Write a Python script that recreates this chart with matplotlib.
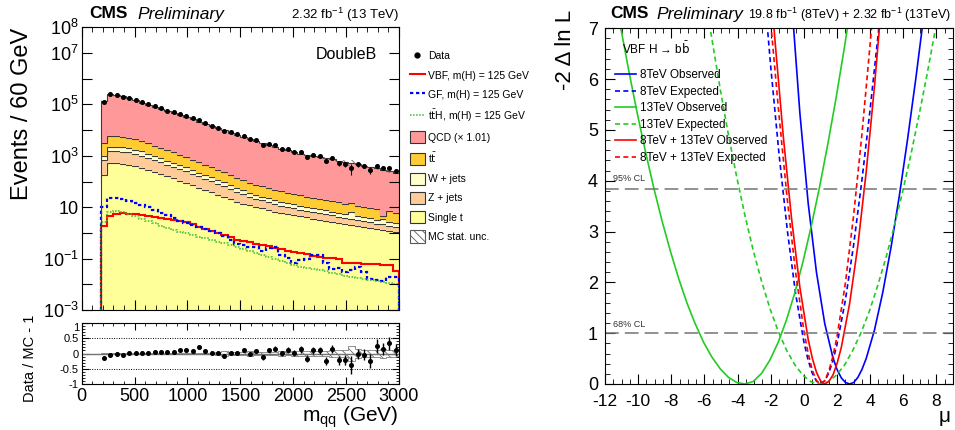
import numpy as np
import matplotlib.pyplot as plt
from matplotlib.lines import Line2D
from matplotlib.patches import Patch
from matplotlib.ticker import FixedLocator, FixedFormatter, MultipleLocator, NullLocator

plt.rcParams['font.family'] = ['Liberation Sans', 'DejaVu Sans']
plt.rcParams['mathtext.default'] = 'regular'
plt.rcParams['axes.unicode_minus'] = False
plt.rcParams['hatch.linewidth'] = 0.6

# ---- left panel: m_qq distribution, 60 GeV bins from 180 to 3000 GeV ----
edges = np.arange(180, 3001, 60)

single_t = [178, 513, 513, 490, 457, 407, 347, 288, 240, 195, 158, 132, 107, 87.1, 70.8, 57.5,
            46.8, 38.0, 30.9, 25.1, 20.4, 16.6, 13.8, 11.7, 10.2, 8.91, 7.76, 6.76, 6.03, 5.37,
            4.79, 4.37, 3.98, 3.63, 3.31, 3.02, 2.75, 2.51, 2.29, 2.09, 1.91, 1.74, 1.58, 1.45,
            1.35, 1.23, 1.12]
z_jets = [514, 1000, 1000, 956, 891, 794, 677, 562, 456, 371, 300, 251, 203, 165, 124, 99.5,
          79.6, 63.8, 51.0, 40.9, 30.6, 23.2, 17.9, 14.0, 11.2, 9.36, 7.76, 6.42, 5.55, 4.83,
          4.22, 3.71, 3.26, 2.90, 2.58, 2.30, 2.04, 1.81, 1.60, 1.42, 1.26, 1.11, 0.98, 0.87,
          0.78, 0.69, 0.62]
w_jets = [284, 726, 726, 680, 620, 540, 451, 366, 292, 238, 192, 161, 130, 106, 81.9, 65.9,
          52.9, 42.8, 34.4, 27.7, 21.4, 16.7, 13.3, 10.8, 8.99, 7.69, 6.51, 5.54, 4.87, 4.28,
          3.78, 3.39, 3.04, 2.74, 2.47, 2.23, 2.01, 1.81, 1.63, 3.0, 1.33, 1.20, 1.08, 0.97,
          1.5, 0.81, 0.73]
ttbar = [2108, 3515, 3500, 3402, 3149, 2699, 2213, 1824, 1482, 1205, 975, 816, 660, 537, 415,
         334, 268, 217, 174, 141, 109, 84.8, 67.5, 54.8, 45.6, 39.0, 33.0, 28.1, 24.7, 21.7,
         19.2, 17.2, 15.4, 13.9, 12.5, 11.3, 10.2, 9.2, 8.3, 7.8, 6.75, 6.1, 5.5, 5.0, 0.8,
         4.1, 3.6]
qcd = [1.380e5, 2.570e5, 2.291e5, 1.995e5, 1.698e5, 1.413e5, 1.148e5, 9.55e4, 7.76e4, 6.46e4,
       5.37e4, 4.57e4, 3.80e4, 3.16e4, 2.57e4, 2.09e4, 1.70e4, 1.41e4, 1.17e4, 9550, 7760,
       6460, 5250, 4370, 3630, 3020, 2570, 2190, 1860, 1580, 1380, 1200, 1070, 955, 871, 794,
       708, 631, 575, 513, 457, 407, 363, 324, 282, 245, 214]
data = [1.201e5, 2.525e5, 2.297e5, 1.960e5, 1.790e5, 1.474e5, 1.210e5, 9.97e4, 8.34e4, 6.94e4,
        5.78e4, 5.01e4, 4.36e4, 3.60e4, 2.89e4, 2.57e4, 1.86e4, 1.48e4, 1.22e4, 9090, 8100,
        6810, 5960, 4380, 3980, 2690, 2920, 2580, 1910, 1800, 1440, 1390, 913, 1075, 980, 618,
        833, 504, 459, 331, 459, 400, 283, 410, 331, 334, 245]
ratio_err = [0.02, 0.02, 0.02, 0.02, 0.02, 0.02, 0.02, 0.02, 0.02, 0.02, 0.025, 0.025, 0.025,
             0.025, 0.025, 0.025, 0.03, 0.03, 0.035, 0.04, 0.04, 0.045, 0.05, 0.055, 0.06, 0.07,
             0.07, 0.08, 0.08, 0.09, 0.09, 0.10, 0.11, 0.11, 0.12, 0.14, 0.14, 0.15, 0.16, 0.28,
             0.17, 0.18, 0.22, 0.23, 0.2, 0.22, 0.18]
mc_unc = [0.01, 0.01, 0.01, 0.01, 0.01, 0.01, 0.015, 0.015, 0.015, 0.015, 0.02, 0.02, 0.02,
          0.02, 0.025, 0.025, 0.03, 0.03, 0.04, 0.09, 0.04, 0.04, 0.05, 0.08, 0.05, 0.06, 0.06,
          0.06, 0.08, 0.06, 0.07, 0.07, 0.08, 0.08, 0.08, 0.09, 0.10, 0.10, 0.12, 0.25, 0.15,
          0.12, 0.12, 0.12, 0.14, 0.12, 0.10]
vbf = [1.86, 4.57, 5.37, 5.75, 5.62, 5.25, 4.90, 4.47, 4.07, 3.72, 3.39, 3.09, 2.82, 2.57, 2.14,
       1.74, 1.45, 1.20, 0.977, 0.813, 0.676, 0.550, 0.479, 0.427, 0.380, 0.339, 0.302, 0.269,
       0.240, 0.200, 0.174, 0.158, 0.145, 0.132, 0.120, 0.110, 0.105, 0.100, 0.068, 0.066,
       0.065, 0.063, 0.062, 0.060, 0.056, 0.054, 0.034]
gf = [10.5, 22.4, 21.9, 20.4, 17.8, 15.1, 12.3, 10.0, 7.94, 6.03, 4.79, 3.80, 3.02, 2.40, 2.00,
      1.66, 1.38, 1.15, 0.955, 0.759, 0.550, 0.380, 0.339, 0.288, 0.288, 0.204, 0.251, 0.288,
      0.138, 0.102, 0.069, 0.089, 0.100, 0.138, 0.138, 0.069, 0.038, 0.042, 0.031, 0.035,
      0.049, 0.031, 0.0155, 0.0148, 0.0135, 0.0186, 0.0200]
tth = [2.75, 6.31, 6.92, 6.61, 5.62, 4.57, 3.63, 2.95, 2.34, 1.91, 1.58, 1.32, 1.12, 0.955,
       0.832, 0.708, 0.617, 0.525, 0.457, 0.389, 0.339, 0.288, 0.240, 0.200, 0.166, 0.138,
       0.115, 0.0955, 0.0794, 0.0661, 0.0550, 0.0490, 0.0437, 0.0398, 0.0363, 0.0316, 0.0275,
       0.0245, 0.0219, 0.0200, 0.0182, 0.0166, 0.0151, 0.0138, 0.0126, 0.0115, 0.0105]

stack_names = ['Single t', 'Z + jets', 'W + jets', r't$\bar{\rm t}$', 'QCD (× 1.01)']
stack_colors = ['#ffff99', '#ffcc99', '#ffffcc', '#ffcc33', '#ff9999']

# ---- right panel: likelihood scans ----
mu_8obs = [-0.74, -0.24, 0.26, 0.76, 1.26, 1.76, 2.01, 2.26, 2.51, 2.76, 3.01, 3.26, 3.51, 3.76,
           4.26, 4.76, 5.26, 5.76, 6.26, 6.76, 7.26]
nll_8obs = [7.54, 5.33, 3.56, 2.20, 1.19, 0.51, 0.28, 0.12, 0.03, 0.0, 0.03, 0.13, 0.29, 0.50,
            1.06, 1.80, 2.69, 3.70, 4.82, 6.02, 7.31]
mu_8exp = [-2.5, -2.0, -1.5, -1.0, -0.5, 0.0, 0.25, 0.5, 0.75, 1.0, 1.25, 1.5, 1.75, 2.0, 2.5,
           3.0, 3.5, 4.0, 4.5, 5.0]
nll_8exp = [8.16, 6.25, 4.53, 3.03, 1.78, 0.83, 0.48, 0.22, 0.06, 0.0, 0.06, 0.21, 0.46, 0.78,
            1.64, 2.73, 4.00, 5.41, 6.93, 8.53]
mu_13obs = [-11.55, -11.05, -10.55, -10.05, -9.55, -9.05, -8.55, -8.05, -7.55, -7.05, -6.55,
            -6.05, -5.55, -5.05, -4.55, -4.05, -3.55, -3.05, -2.55, -2.05, -1.55, -1.05, -0.55,
            -0.05, 0.45, 0.95, 1.45, 1.95, 2.45, 2.95]
nll_13obs = [7.94, 7.01, 6.14, 5.32, 4.56, 3.85, 3.20, 2.61, 2.07, 1.59, 1.18, 0.82, 0.53, 0.30,
             0.13, 0.03, 0.0, 0.05, 0.21, 0.47, 0.82, 1.26, 1.79, 2.41, 3.11, 3.88, 4.73, 5.64,
             6.63, 7.68]
mu_13exp = [-6.05, -5.55, -5.05, -4.55, -4.05, -3.55, -3.05, -2.55, -2.05, -1.55, -1.05, -0.55,
            -0.05, 0.45, 0.95, 1.45, 1.95, 2.45, 2.95, 3.45, 3.95, 4.45, 4.95, 5.45, 5.95, 6.45,
            6.95, 7.45, 7.95, 8.45]
nll_13exp = [7.84, 6.79, 5.81, 4.90, 4.07, 3.31, 2.62, 2.02, 1.49, 1.04, 0.67, 0.38, 0.17, 0.04,
             0.0, 0.04, 0.17, 0.37, 0.66, 1.01, 1.43, 1.93, 2.48, 3.10, 3.77, 4.50, 5.29, 6.12,
             7.00, 7.94]
mu_combobs = [-2.24, -1.74, -1.24, -0.74, -0.24, 0.26, 0.51, 0.76, 1.01, 1.26, 1.51, 1.76, 2.01,
              2.26, 2.76, 3.26, 3.76, 4.26, 4.76]
nll_combobs = [8.84, 6.75, 4.87, 3.25, 1.90, 0.88, 0.51, 0.23, 0.06, 0.0, 0.05, 0.18, 0.41,
               0.72, 1.58, 2.73, 4.17, 5.85, 7.78]
mu_combexp = [-2.5, -2.0, -1.5, -1.0, -0.5, 0.0, 0.25, 0.5, 0.75, 1.0, 1.25, 1.5, 1.75, 2.0,
              2.5, 3.0, 3.5, 4.0, 4.5]
nll_combexp = [9.07, 7.11, 5.29, 3.63, 2.20, 1.05, 0.62, 0.28, 0.07, 0.0, 0.06, 0.25, 0.54,
               0.93, 1.97, 3.31, 4.90, 6.69, 8.65]

fig = plt.figure(figsize=(9.55, 4.3), dpi=100)
W, H = 955.0, 430.0

def fax(x0, y0, x1, y1):
    # pixel box -> figure axes
    return fig.add_axes([x0 / W, 1 - y1 / H, (x1 - x0) / W, (y1 - y0) / H])

ax = fax(81.7, 27.3, 399, 310)
axr = fax(81.7, 322.7, 399, 384.3)
ax2 = fax(605, 28.3, 953, 384)

# stacked backgrounds
cum = np.zeros(len(qcd))
for vals, col in zip([single_t, z_jets, w_jets, ttbar, qcd], stack_colors):
    top = cum + np.array(vals)
    base = np.maximum(cum, 1e-3)
    ax.stairs(top, edges, baseline=base, fill=True, color=col, lw=0)
    ax.stairs(top, edges, baseline=None, color='#3a3a3a', lw=0.8)
    cum = top
mc = cum
mc_unc = np.array(mc_unc)
ax.plot([180, 180], [1e-3, mc[0]], color='#3a3a3a', lw=0.8)
ax.stairs(mc * (1 + mc_unc), edges, baseline=mc * (1 - mc_unc), fill=True,
          facecolor='none', edgecolor='0.4', hatch='\\\\\\\\', lw=0)

# signals
ax.stairs(vbf, edges, baseline=1e-3, color='red', lw=1.5)
ax.stairs(gf, edges, baseline=1e-3, color='blue', lw=1.6, ls=(0, (1.5, 1.2)))
ax.stairs(tth, edges, baseline=1e-3, color='#33bb33', lw=1.1, ls=(0, (1, 1)))

centers = 0.5 * (edges[:-1] + edges[1:])
data = np.array(data)
ratio_err = np.array(ratio_err)
ax.errorbar(centers, data, yerr=ratio_err * mc, fmt='o', ms=2.6, color='k', lw=0.8)

ax.set_yscale('log')
ax.set_xlim(0, 3000)
ax.set_ylim(1e-3, 1e8)
decades = [10.0 ** k for k in range(-3, 9)]
labels = ['$10^{-3}$', '', '$10^{-1}$', '', '10', '', '$10^{3}$', '', '$10^{5}$', '',
          '$10^{7}$', '$10^{8}$']
ax.yaxis.set_major_locator(FixedLocator(decades))
ax.yaxis.set_major_formatter(FixedFormatter(labels))
ax.yaxis.set_minor_locator(NullLocator())
ax.xaxis.set_major_locator(MultipleLocator(500))
ax.xaxis.set_minor_locator(MultipleLocator(100))
ax.tick_params(which='both', direction='in', top=True, right=True, labelbottom=False)
ax.tick_params(which='major', length=7, labelsize=13, pad=2)
ax.tick_params(which='minor', length=3.5)
ax.text(0.93, 0.93, 'DoubleB', transform=ax.transAxes, ha='right', va='top', fontsize=11.5)

# ratio panel
ratio = data / mc - 1
axr.stairs(mc_unc, edges, baseline=-mc_unc, fill=True, facecolor='none', edgecolor='0.4',
           hatch='\\\\\\\\', lw=0.5)
axr.axhline(0, color='0.45', lw=1)
for yv in (0.5, -0.5):
    axr.axhline(yv, color='k', lw=0.7, ls=(0, (1, 1.5)))
axr.errorbar(centers, ratio, yerr=ratio_err, fmt='o', ms=2.6, color='k', lw=1)
axr.set_xlim(0, 3000)
axr.set_ylim(-1, 1)
axr.set_yticks([-1, -0.5, 0, 0.5, 1])
axr.set_yticklabels(['-1', '-0.5', '0', '0.5', '1'])
axr.yaxis.set_minor_locator(MultipleLocator(0.1))
axr.xaxis.set_major_locator(MultipleLocator(500))
axr.xaxis.set_minor_locator(MultipleLocator(100))
axr.tick_params(which='both', direction='in', top=True, right=True)
axr.tick_params(axis='y', which='major', length=5, labelsize=8, pad=2)
axr.tick_params(axis='x', which='major', length=5, labelsize=13, pad=3)
axr.tick_params(which='minor', length=2.5)
# keep the top "1" clear of the 10^-3 label above it
axr.get_yticklabels()[-1].set_va('top')

fig.text(22 / W, 1 - 28 / H, 'Events / 60 GeV', rotation=90, ha='center', va='top', fontsize=17)
fig.text(30 / W, 1 - 358 / H, 'Data / MC - 1', rotation=90, ha='center', va='center',
         fontsize=10.5)
fig.text(399 / W, 1 - 417 / H, 'm$_{qq}$ (GeV)', ha='right', va='center', fontsize=15)
fig.text(89 / W, 1 - 14 / H, 'CMS', ha='left', va='center', fontsize=12.5, weight='bold')
fig.text(137 / W, 1 - 14 / H, 'Preliminary', ha='left', va='center', fontsize=12.5,
         style='italic')
fig.text(399 / W, 1 - 15 / H, '2.32 fb$^{-1}$ (13 TeV)', ha='right', va='center', fontsize=9.5)

handles = [Line2D([], [], marker='o', ms=3.5, color='k', ls='none'),
           Line2D([], [], color='red', lw=1.5),
           Line2D([], [], color='blue', lw=1.6, ls=(0, (1.5, 1.2))),
           Line2D([], [], color='#33bb33', lw=1.1, ls=(0, (1, 1)))]
names = ['Data', 'VBF, m(H) = 125 GeV', 'GF, m(H) = 125 GeV', r't$\bar{\rm t}$H, m(H) = 125 GeV']
for col, nm in zip(stack_colors[::-1], stack_names[::-1]):
    handles.append(Patch(facecolor=col, edgecolor='#333333', lw=0.8))
    names.append(nm)
handles.append(Patch(facecolor='white', edgecolor='0.35', hatch='\\\\\\\\', lw=0.8))
names.append('MC stat. unc.')
fig.legend(handles, names, loc='upper left', bbox_to_anchor=(410 / W, 1 - 50 / H),
           frameon=False, fontsize=7.5, handlelength=1.4, handleheight=1.4,
           handletextpad=0.3, labelspacing=0.7, borderaxespad=0, borderpad=0)

# ---- right panel ----
curves = [(mu_8obs, nll_8obs, 'blue', '-', '8TeV Observed'),
          (mu_8exp, nll_8exp, 'blue', (0, (3, 2)), '8TeV Expected'),
          (mu_13obs, nll_13obs, '#22cc22', '-', '13TeV Observed'),
          (mu_13exp, nll_13exp, '#22cc22', (0, (3, 2)), '13TeV Expected'),
          (mu_combobs, nll_combobs, 'red', '-', '8TeV + 13TeV Observed'),
          (mu_combexp, nll_combexp, 'red', (0, (3, 2)), '8TeV + 13TeV Expected')]
for mu, nll, col, ls, lab in curves:
    ax2.plot(mu, nll, color=col, ls=ls, lw=1.2, label=lab)
for yv in (1.0, 3.84):
    ax2.axhline(yv, color='0.45', lw=1.1, ls=(0, (9, 4)))
ax2.text(-11.5, 4.0, '95% CL', fontsize=6.5, color='0.2')
ax2.text(-11.5, 1.13, '68% CL', fontsize=6.5, color='0.2')
ax2.text(-11.0, 6.6, r'VBF H → b$\bar{\rm b}$', fontsize=8.5, va='center')
ax2.legend(loc='upper left', bbox_to_anchor=(0.03, 0.885), frameon=False, fontsize=8.5,
           handlelength=1.7, handletextpad=0.4, labelspacing=0.38, borderaxespad=0,
           borderpad=0)
ax2.set_xlim(-12, 9)
ax2.set_ylim(0, 7)
ax2.xaxis.set_major_locator(MultipleLocator(2))
ax2.xaxis.set_minor_locator(MultipleLocator(0.5))
ax2.yaxis.set_major_locator(MultipleLocator(1))
ax2.yaxis.set_minor_locator(MultipleLocator(0.2))
ax2.tick_params(which='both', direction='in', top=True, right=True)
ax2.tick_params(axis='y', which='major', length=7, labelsize=13, pad=5)
ax2.tick_params(axis='x', which='major', length=7, labelsize=12.5, pad=7)
ax2.tick_params(which='minor', length=3.5)
fig.text(565 / W, 1 - 10 / H, '-2 Δ ln L', rotation=90, ha='center', va='top', fontsize=16)
fig.text(945 / W, 1 - 417 / H, 'μ', ha='center', va='center', fontsize=15)
fig.text(610 / W, 1 - 14 / H, 'CMS', ha='left', va='center', fontsize=12.5, weight='bold')
fig.text(656 / W, 1 - 14 / H, 'Preliminary', ha='left', va='center', fontsize=12.5,
         style='italic')
fig.text(951 / W, 1 - 15 / H, '19.8 fb$^{-1}$ (8TeV) + 2.32 fb$^{-1}$ (13TeV)', ha='right',
         va='center', fontsize=9)

fig.savefig('out.png', dpi=100)
